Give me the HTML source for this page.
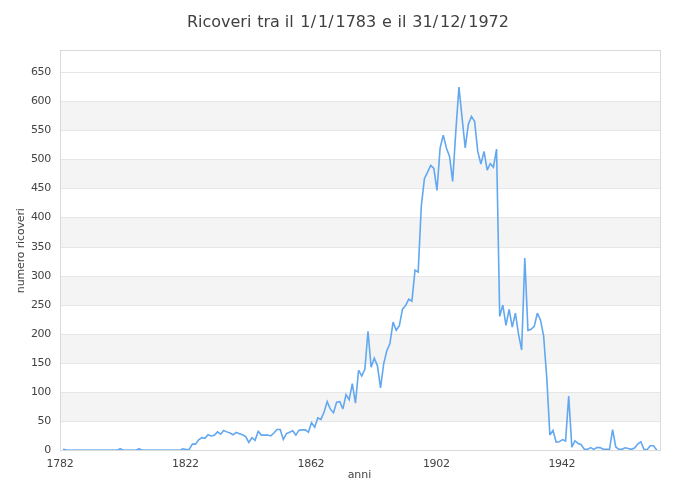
<!DOCTYPE html>
<html><head><meta charset="utf-8"><title>Ricoveri</title>
<style>
html,body{margin:0;padding:0;background:#fff;}
body{width:700px;height:500px;overflow:hidden;}
svg{display:block;will-change:transform;font-family:"DejaVu Sans","Liberation Sans",sans-serif;}
</style></head><body>
<svg width="700" height="500" viewBox="0 0 700 500">
<defs><clipPath id="pc"><rect x="60" y="50" width="601" height="400"/></clipPath></defs>
<rect x="0" y="0" width="700" height="500" fill="#ffffff"/>

<rect x="60.5" y="392.5" width="600" height="29.0" fill="#f4f4f4"/>
<rect x="60.5" y="334.5" width="600" height="29.0" fill="#f4f4f4"/>
<rect x="60.5" y="276.5" width="600" height="29.0" fill="#f4f4f4"/>
<rect x="60.5" y="217.5" width="600" height="30.0" fill="#f4f4f4"/>
<rect x="60.5" y="159.5" width="600" height="29.0" fill="#f4f4f4"/>
<rect x="60.5" y="101.5" width="600" height="29.0" fill="#f4f4f4"/>
<path d="M 60.5 421.5 L 660.5 421.5" stroke="#e6e6e6" stroke-width="1" fill="none" shape-rendering="crispEdges"/>
<path d="M 60.5 392.5 L 660.5 392.5" stroke="#e6e6e6" stroke-width="1" fill="none" shape-rendering="crispEdges"/>
<path d="M 60.5 363.5 L 660.5 363.5" stroke="#e6e6e6" stroke-width="1" fill="none" shape-rendering="crispEdges"/>
<path d="M 60.5 334.5 L 660.5 334.5" stroke="#e6e6e6" stroke-width="1" fill="none" shape-rendering="crispEdges"/>
<path d="M 60.5 305.5 L 660.5 305.5" stroke="#e6e6e6" stroke-width="1" fill="none" shape-rendering="crispEdges"/>
<path d="M 60.5 276.5 L 660.5 276.5" stroke="#e6e6e6" stroke-width="1" fill="none" shape-rendering="crispEdges"/>
<path d="M 60.5 247.5 L 660.5 247.5" stroke="#e6e6e6" stroke-width="1" fill="none" shape-rendering="crispEdges"/>
<path d="M 60.5 217.5 L 660.5 217.5" stroke="#e6e6e6" stroke-width="1" fill="none" shape-rendering="crispEdges"/>
<path d="M 60.5 188.5 L 660.5 188.5" stroke="#e6e6e6" stroke-width="1" fill="none" shape-rendering="crispEdges"/>
<path d="M 60.5 159.5 L 660.5 159.5" stroke="#e6e6e6" stroke-width="1" fill="none" shape-rendering="crispEdges"/>
<path d="M 60.5 130.5 L 660.5 130.5" stroke="#e6e6e6" stroke-width="1" fill="none" shape-rendering="crispEdges"/>
<path d="M 60.5 101.5 L 660.5 101.5" stroke="#e6e6e6" stroke-width="1" fill="none" shape-rendering="crispEdges"/>
<path d="M 60.5 72.5 L 660.5 72.5" stroke="#e6e6e6" stroke-width="1" fill="none" shape-rendering="crispEdges"/>
<g clip-path="url(#pc)"><path d="M 63.79 449.34 L 66.92 450.50 M 117.10 450.50 L 120.24 448.75 L 123.37 450.50 M 135.92 450.50 L 139.05 448.75 L 142.19 450.50 M 176.69 450.50 L 179.82 450.21 L 182.96 448.75 L 186.10 449.63 L 189.23 449.34 L 192.37 444.10 L 195.50 444.10 L 198.64 439.74 L 201.78 437.70 L 204.91 438.28 L 208.05 434.79 L 211.18 435.95 L 214.32 435.37 L 217.46 431.88 L 220.59 434.21 L 223.73 430.43 L 226.86 431.88 L 230.00 433.05 L 233.14 434.79 L 236.27 432.46 L 239.41 433.63 L 242.55 434.79 L 245.68 436.54 L 248.82 442.35 L 251.95 437.70 L 255.09 440.32 L 258.23 431.30 L 261.36 435.08 L 264.50 435.08 L 267.63 435.08 L 270.77 435.95 L 273.91 433.05 L 277.04 429.56 L 280.18 429.56 L 283.31 439.45 L 286.45 433.63 L 289.59 432.17 L 292.72 430.72 L 295.86 435.08 L 299.00 430.14 L 302.13 429.85 L 305.27 429.85 L 308.40 432.17 L 311.54 422.57 L 314.68 427.23 L 317.81 417.92 L 320.95 419.37 L 324.08 412.10 L 327.22 401.63 L 330.36 409.19 L 333.49 412.68 L 336.63 402.21 L 339.77 401.63 L 342.90 408.90 L 346.04 394.65 L 349.17 399.88 L 352.31 383.59 L 355.45 403.08 L 358.58 370.21 L 361.72 376.03 L 364.85 369.34 L 367.99 331.23 L 371.13 367.30 L 374.26 358.28 L 377.40 365.56 L 380.53 387.96 L 383.67 363.81 L 386.81 350.72 L 389.94 343.45 L 393.08 322.15 L 396.22 330.30 L 399.35 325.70 L 402.49 309.12 L 405.62 305.63 L 408.76 299.23 L 411.90 301.15 L 415.03 270.14 L 418.17 272.12 L 421.30 206.14 L 424.44 178.51 L 427.58 172.11 L 430.71 165.42 L 433.85 168.33 L 436.99 190.44 L 440.12 147.96 L 443.26 135.16 L 446.39 147.96 L 449.53 156.40 L 452.67 181.42 L 455.80 131.67 L 458.94 87.17 L 462.07 117.71 L 465.21 147.96 L 468.35 124.28 L 471.48 116.55 L 474.62 121.43 L 477.75 151.45 L 480.89 163.96 L 484.03 151.45 L 487.16 170.07 L 490.30 163.67 L 493.44 167.16 L 496.57 149.13 L 499.71 316.40 L 502.84 305.05 L 505.98 325.41 L 509.12 309.30 L 512.25 327.16 L 515.39 313.20 L 518.52 334.14 L 521.66 350.02 L 524.80 257.92 L 527.93 330.30 L 531.07 329.25 L 534.20 326.40 L 537.34 313.20 L 540.48 320.00 L 543.61 335.89 L 546.75 377.77 L 549.89 434.97 L 553.02 430.43 L 556.16 442.12 L 559.29 441.83 L 562.43 439.56 L 565.57 441.02 L 568.70 396.10 L 571.84 447.13 L 574.97 440.73 L 578.11 443.58 L 581.25 444.68 L 584.38 449.34 L 587.52 449.34 L 590.66 447.59 L 593.79 449.34 L 596.93 447.59 L 600.06 447.59 L 603.20 449.22 L 606.34 449.34 L 609.47 449.34 L 612.61 429.56 L 615.74 447.01 L 618.88 449.34 L 622.02 449.34 L 625.15 447.77 L 628.29 448.58 L 631.42 449.34 L 634.56 448.00 L 637.70 443.98 L 640.83 441.71 L 643.97 449.34 L 647.11 449.63 L 650.24 445.73 L 653.38 445.73 L 656.51 449.69" fill="none" stroke="#62a8f0" stroke-width="1.6" stroke-linejoin="miter" stroke-miterlimit="3" stroke-linecap="round"/><path d="M 66 449.5 L 119 449.5 M 122 449.5 L 138 449.5 M 141 449.5 L 179 449.5" fill="none" stroke="#62a8f0" stroke-width="1" stroke-opacity="0.55"/><path d="M 66 449.5 L 119 449.5 M 122 449.5 L 138 449.5 M 141 449.5 L 179 449.5" fill="none" stroke="#62a8f0" stroke-width="1" stroke-dasharray="1 1" stroke-opacity="0.4"/></g>
<rect x="60.5" y="50.5" width="600" height="400" fill="none" stroke="#d9d9d9" stroke-width="1" shape-rendering="crispEdges"/>
<text x="51" y="453.0" text-anchor="end" font-size="11" letter-spacing="-0.3" fill="#444444">0</text>
<text x="51" y="424.0" text-anchor="end" font-size="11" letter-spacing="-0.3" fill="#444444">50</text>
<text x="51" y="395.0" text-anchor="end" font-size="11" letter-spacing="-0.3" fill="#444444">100</text>
<text x="51" y="366.0" text-anchor="end" font-size="11" letter-spacing="-0.3" fill="#444444">150</text>
<text x="51" y="337.0" text-anchor="end" font-size="11" letter-spacing="-0.3" fill="#444444">200</text>
<text x="51" y="308.0" text-anchor="end" font-size="11" letter-spacing="-0.3" fill="#444444">250</text>
<text x="51" y="279.0" text-anchor="end" font-size="11" letter-spacing="-0.3" fill="#444444">300</text>
<text x="51" y="250.0" text-anchor="end" font-size="11" letter-spacing="-0.3" fill="#444444">350</text>
<text x="51" y="220.0" text-anchor="end" font-size="11" letter-spacing="-0.3" fill="#444444">400</text>
<text x="51" y="191.0" text-anchor="end" font-size="11" letter-spacing="-0.3" fill="#444444">450</text>
<text x="51" y="162.0" text-anchor="end" font-size="11" letter-spacing="-0.3" fill="#444444">500</text>
<text x="51" y="133.0" text-anchor="end" font-size="11" letter-spacing="-0.3" fill="#444444">550</text>
<text x="51" y="104.0" text-anchor="end" font-size="11" letter-spacing="-0.3" fill="#444444">600</text>
<text x="51" y="75.0" text-anchor="end" font-size="11" letter-spacing="-0.3" fill="#444444">650</text>
<text x="60.0" y="467" text-anchor="middle" font-size="11" letter-spacing="-0.3" fill="#444444">1782</text>
<text x="185.4" y="467" text-anchor="middle" font-size="11" letter-spacing="-0.3" fill="#444444">1822</text>
<text x="310.9" y="467" text-anchor="middle" font-size="11" letter-spacing="-0.3" fill="#444444">1862</text>
<text x="436.3" y="467" text-anchor="middle" font-size="11" letter-spacing="-0.3" fill="#444444">1902</text>
<text x="561.8" y="467" text-anchor="middle" font-size="11" letter-spacing="-0.3" fill="#444444">1942</text>
<text x="359.5" y="478" text-anchor="middle" font-size="11" fill="#444444">anni</text>
<text x="23.6" y="250.7" text-anchor="middle" font-size="11" fill="#444444" letter-spacing="-0.15" transform="rotate(-90 23.6 250.7)">numero ricoveri</text>
<text x="186.9" y="27" text-anchor="start" font-size="16" fill="#404040">Ricoveri <tspan dx="0.7">tra </tspan><tspan dx="-0.1">il </tspan><tspan dx="1.5">1</tspan><tspan dx="0.2">/</tspan><tspan dx="1.8">1</tspan><tspan dx="0.2">/</tspan><tspan dx="1.8">1783 </tspan><tspan dx="0.7">e </tspan><tspan dx="0.7">il </tspan><tspan dx="0.7">31</tspan><tspan dx="0.2">/</tspan><tspan dx="1.8">12</tspan><tspan dx="0.2">/</tspan><tspan dx="2.2">1972</tspan></text>
</svg></body></html>
